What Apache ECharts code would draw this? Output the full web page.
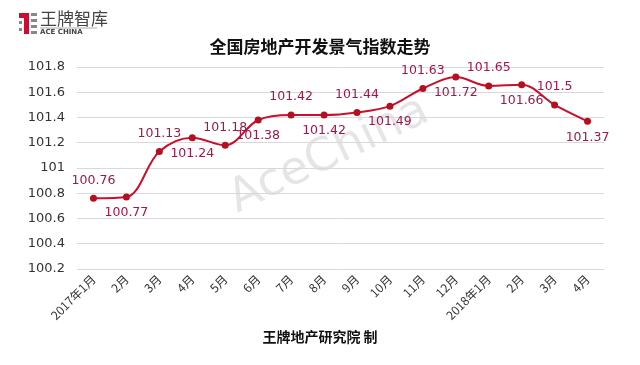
<!DOCTYPE html>
<html><head><meta charset="utf-8">
<script src="https://cdn.jsdelivr.net/npm/echarts@6/dist/echarts.min.js"></script>
<style>html,body{margin:0;padding:0;background:#fff}#c{width:640px;height:365px}</style>
</head><body><div id="c"></div>
<script>
const categories = ['2017年1月','2月','3月','4月','5月','6月','7月','8月','9月','10月','11月','12月','2018年1月','2月','3月','4月'];
const values = [100.76,100.77,101.13,101.24,101.18,101.38,101.42,101.42,101.44,101.49,101.63,101.72,101.65,101.66,101.5,101.37];
const yTicks = [100.2,100.4,100.6,100.8,101,101.2,101.4,101.6,101.8];
const title = '全国房地产开发景气指数走势';
const footer = '王牌地产研究院 制';

const font = '"Noto Sans CJK SC", "DejaVu Sans", sans-serif';
const chart = echarts.init(document.getElementById('c'));
const data = values.map((v, i) => ({
  value: v,
  label: { position: i % 2 === 0 ? 'top' : 'bottom', distance: i % 2 === 0 ? 8 : 6 }
}));
chart.setOption({
  animation: false,
  backgroundColor: '#fff',
  title: {
    text: title, left: 'center', top: 33,
    textStyle: { fontSize: 17, fontWeight: 'bold', color: '#111', fontFamily: font }
  },
  grid: { left: 77, right: 36, top: 67, bottom: 96 },
  xAxis: {
    type: 'category', data: categories, boundaryGap: true,
    axisLine: { show: false }, axisTick: { show: false },
    axisLabel: { rotate: 45, color: '#333', fontSize: 12, margin: 8, interval: 0, fontFamily: font }
  },
  yAxis: {
    type: 'value', min: yTicks[0], max: yTicks[yTicks.length - 1], interval: 0.2,
    axisLine: { show: false }, axisTick: { show: false },
    axisLabel: { color: '#333', fontSize: 13, margin: 12, fontFamily: '"DejaVu Sans", sans-serif',
      formatter: v => String(Math.round(v * 10) / 10) },
    splitLine: { lineStyle: { color: '#d9d9d9', width: 1 } }
  },
  series: [{
    type: 'line', data: data, smooth: 0.35,
    symbol: 'circle', symbolSize: 7,
    lineStyle: { color: '#c8102e', width: 2 },
    itemStyle: { color: '#b5101f' },
    label: { show: true, color: '#a3164a', fontSize: 12.5, fontFamily: '"DejaVu Sans", sans-serif' }
  }],
  graphic: [
    { type: 'text', left: 222, top: 88, rotation: Math.PI / 7, z: 0,
      style: { text: 'AceChina', fontSize: 46, fill: 'rgba(0,0,0,0.1)', fontFamily: '"DejaVu Sans", sans-serif' } },
    { type: 'text', left: 'center', top: 330,
      style: { text: footer, fontSize: 14, fontWeight: 'bold', fill: '#111', fontFamily: font } },
    { type: 'rect', shape: { x: 19, y: 13, width: 9, height: 5 }, style: { fill: '#c8102e' } },
    { type: 'rect', shape: { x: 24, y: 13, width: 5, height: 21 }, style: { fill: '#c8102e' } },
    { type: 'rect', shape: { x: 19, y: 21, width: 3, height: 3 }, style: { fill: '#888' } },
    { type: 'rect', shape: { x: 19, y: 28, width: 3, height: 3 }, style: { fill: '#888' } },
    { type: 'rect', shape: { x: 31, y: 13, width: 6, height: 3 }, style: { fill: '#888' } },
    { type: 'rect', shape: { x: 31, y: 19, width: 6, height: 3 }, style: { fill: '#888' } },
    { type: 'rect', shape: { x: 31, y: 25, width: 6, height: 3 }, style: { fill: '#888' } },
    { type: 'rect', shape: { x: 31, y: 31, width: 6, height: 3 }, style: { fill: '#888' } },
    { type: 'text', left: 40, top: 10,
      style: { text: '王牌智库', fontSize: 17, fill: '#444', fontFamily: font } },
    { type: 'line', shape: { x1: 40, y1: 28, x2: 97, y2: 28 }, style: { stroke: '#aaa', lineWidth: 1 } },
    { type: 'text', left: 40, top: 29,
      style: { text: 'ACE CHINA', fontSize: 7, fontWeight: 'bold', fill: '#444', fontFamily: '"DejaVu Sans", sans-serif' } }
  ]
});
</script></body></html>
